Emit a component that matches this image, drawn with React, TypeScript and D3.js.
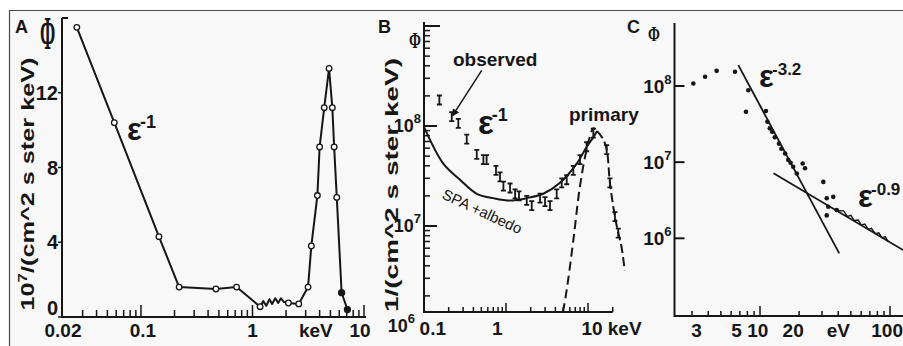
import React, { useEffect, useRef } from "react";
import * as d3 from "d3";

// ---- panel A: flux in 10^7 /(cm^2 s ster keV), energy in keV
const aEnergy = [0.0266, 0.0577, 0.145, 0.22, 0.47, 0.72, 1.17, 1.25, 1.33, 1.42, 1.5, 1.6, 1.7, 1.8, 1.92, 2.1, 2.6, 3.15, 3.37, 3.82, 4.0, 4.4, 4.86, 5.2, 5.4, 5.7, 6.3, 7.1];
const aFlux = [15.5, 10.4, 4.3, 1.6, 1.5, 1.6, 0.55, 0.85, 0.6, 0.95, 0.7, 1.0, 0.75, 1.0, 0.8, 0.75, 0.7, 1.6, 3.8, 6.5, 9.1, 11.2, 13.3, 11.2, 9.1, 6.4, 1.3, 0.4];
// "o" open circle, "f" filled dot, "" plain vertex
const aMarker = ["o", "o", "o", "o", "o", "o", "o", "", "", "", "", "", "", "", "", "o", "o", "o", "o", "o", "o", "o", "o", "o", "o", "o", "f", "f"];
const aYTicks = [0, 4, 8, 12];
const aXLabels = ["0.02", "0.1", "1", "keV", "10"];
const aXLabelAt = [0.02, 0.104, 1, 3.7, 9.2];

// ---- panel B: flux 1/(cm^2 s ster keV), energy in keV
const bObsEnergy = [0.154, 0.218, 0.262, 0.332, 0.44, 0.53, 0.58, 0.755, 0.845, 0.93, 1.12, 1.29, 1.44, 1.79, 2.06, 2.6, 2.99, 3.44, 4.15, 4.78, 5.5, 6.62, 7.98, 9.63, 11.6, 16.9, 18.5, 21.3, 23.4];
const bObsFlux = [1.82e8, 1.24e8, 1.06e8, 7.4e7, 5.2e7, 4.6e7, 4.6e7, 3.6e7, 3.1e7, 2.5e7, 2.4e7, 2.1e7, 2.0e7, 1.8e7, 1.6e7, 1.9e7, 1.75e7, 1.6e7, 2.1e7, 2.7e7, 2.9e7, 3.6e7, 4.6e7, 6.2e7, 8.5e7, 5.8e7, 2.7e7, 1.24e7, 8.5e6];
const bSpaEnergy = [0.1, 0.172, 0.275, 0.44, 0.7, 1.12, 1.79, 2.85, 4.56, 7.28, 9.63, 11.6, 12.9];
const bSpaFlux = [9.8e7, 4.2e7, 2.9e7, 2.1e7, 1.9e7, 1.8e7, 1.9e7, 2.1e7, 2.7e7, 4.2e7, 6.2e7, 7.7e7, 8.9e7];
const bFallEnergy = [12.9, 15.0, 16.9, 18.5, 21.3, 23.4, 25.6, 28];
const bFallFlux = [8.9e7, 7.6e7, 5.8e7, 2.7e7, 1.24e7, 8.5e6, 6.2e6, 3.6e6];
const bPrimEnergy = [4.95, 5.5, 6.62, 7.98, 9.63, 11.6, 12.3];
const bPrimFlux = [1.38e6, 2.3e6, 7.2e6, 2.5e7, 5.8e7, 9.5e7, 9.3e7];
const bYTicks = [1e6, 1e7, 1e8];
const bYExp = ["6", "7", "8"];
const bYLabelDx = [-6, 0, 0];
const bXLabels = ["0.1", "1", "10", "keV"];
const bXLabelAt = [0.128, 0.78, 11.2, 28];

// ---- panel C: energy in eV
const cDotEnergy = [3.07, 3.78, 4.64, 6.42, 8.13, 7.8, 11.1, 11.4, 11.9, 12.4, 13.0, 14.0, 14.6, 15.6, 16.5, 17.2, 18.0, 19.2, 21.3, 22.2, 30.7, 32.6, 36.6, 33.5, 32.6, 38.9];
const cDotFlux = [1.08e8, 1.32e8, 1.58e8, 1.54e8, 8.8e7, 4.6e7, 4.7e7, 3.39e7, 2.78e7, 2.5e7, 2.12e7, 1.75e7, 1.5e7, 1.3e7, 1.07e7, 9.8e6, 8.7e6, 7.1e6, 9.6e6, 8.3e6, 5.5e6, 3.35e6, 3.5e6, 2.6e6, 2.0e6, 2.35e6];
const cZigEnergy = [40, 44, 47, 50, 53, 57, 60, 64, 68, 72, 77, 82, 87, 92, 97];
const cZigFlux = [2.3e6, 2.29e6, 1.94e6, 2.0e6, 1.71e6, 1.74e6, 1.5e6, 1.54e6, 1.31e6, 1.35e6, 1.15e6, 1.18e6, 1.01e6, 1.05e6, 9.0e5];
const cSteepEnergy = [6.81, 40.7];
const cSteepFlux = [1.88e8, 6.35e5];
const cFlatEnergy = [12.7, 126];
const cFlatFlux = [7.13e6, 7.0e5];
const cYTicks = [1e6, 1e7, 1e8];
const cYExp = ["6", "7", "8"];
const cXLabels = ["3", "5", "10", "20", "eV", "100"];
const cXLabelAt = [3.25, 6.6, 9.6, 18, 40, 95];

const W = 903;
const H = 346;
const INK = "#161616";
const SANS = "'Liberation Sans', Arial, Helvetica, sans-serif";
const SERIF = "'Liberation Serif', 'DejaVu Serif', serif";

type G = d3.Selection<SVGGElement, unknown, null, undefined>;

const isDecade = (v: number) => Math.abs(Math.log10(v) - Math.round(Math.log10(v))) < 1e-6;

const ibar = (x: number, y: number, w = 5, h = 9) =>
  `M${x - w / 2},${y - h / 2}h${w}M${x},${y - h / 2}v${h}M${x - w / 2},${y + h / 2}h${w}`;

function addText(g: G, x: number, y: number, s: string, size: number, opts: any = {}) {
  const { anchor = "start", weight = "bold", family = SANS, sx = 1 } = opts;
  return g
    .append("text")
    .attr("transform", `translate(${x},${y}) scale(${sx},1)`)
    .attr("text-anchor", anchor)
    .attr("font-family", family)
    .attr("font-weight", weight)
    .attr("font-size", size)
    .attr("fill", INK)
    .text(s);
}

function powLabel(g: G, x: number, y: number, exp: string, size = 19) {
  const t = g
    .append("text")
    .attr("x", x)
    .attr("y", y)
    .attr("text-anchor", "end")
    .attr("font-family", SANS)
    .attr("font-weight", "bold")
    .attr("font-size", size)
    .attr("fill", INK);
  t.append("tspan").text("10");
  t.append("tspan").attr("dy", -9).attr("font-size", 13).text(exp);
}

function epsLabel(g: G, x: number, y: number, exp: string, size: number, supSize: number) {
  addText(g, x, y, "ε", size);
  addText(g, x + size * 0.42, y - size * 0.4, exp, supSize);
}

function phi(g: G, cx: number, y: number, size: number, sx: number) {
  addText(g, cx, y, "Φ", size, { anchor: "middle", family: SERIF, sx });
}

function yTitle(g: G, cx: number, cy: number, len: number, parts: [string, number, number][]) {
  const t = g
    .append("text")
    .attr("transform", `translate(${cx},${cy}) rotate(-90)`)
    .attr("text-anchor", "middle")
    .attr("font-family", SANS)
    .attr("font-weight", "bold")
    .attr("font-size", 18)
    .attr("fill", INK)
    .attr("textLength", len)
    .attr("lengthAdjust", "spacingAndGlyphs");
  parts.forEach(([s, dy, fs]) => t.append("tspan").attr("dy", dy).attr("font-size", fs).text(s));
}

function drawA(g: G) {
  const x = d3.scaleLog().domain([0.02, 10]).range([63, 364]);
  const y = d3.scaleLinear().domain([0, 16]).range([317, 18]);
  const x0 = x(0.02) - 1;
  const base = y(0);

  g.append("path")
    .attr("d", `M${x0},${y(16)}V${base}H${x(10) + 2}`)
    .attr("fill", "none")
    .attr("stroke", INK)
    .attr("stroke-width", 2);
  g.append("line").attr("x1", x0).attr("x2", x0 + 6).attr("y1", y(16)).attr("y2", y(16)).attr("stroke", INK).attr("stroke-width", 2);

  aYTicks.forEach((v) => {
    g.append("line").attr("x1", x0 - 4).attr("x2", x0).attr("y1", y(v)).attr("y2", y(v)).attr("stroke", INK).attr("stroke-width", 1.5);
    // the zero label sits on the axis so it clears the x labels below
    addText(g, x0 - 4, v === 0 ? base - 2 : y(v) + 7, String(v), 20, { anchor: "end" });
  });

  x.ticks()
    .filter((v) => v > 0.02)
    .forEach((v) => {
      g.append("line")
        .attr("x1", x(v))
        .attr("x2", x(v))
        .attr("y1", base)
        .attr("y2", base - (isDecade(v) ? 12 : 7))
        .attr("stroke", INK)
        .attr("stroke-width", 1.5);
    });
  aXLabels.forEach((s, i) => addText(g, x(aXLabelAt[i]), 337, s, 19, { anchor: "middle" }));

  const pts = aEnergy.map((e, i) => [x(e), y(aFlux[i])] as [number, number]);
  g.append("path")
    .attr("d", d3.line()(pts))
    .attr("fill", "none")
    .attr("stroke", INK)
    .attr("stroke-width", 2)
    .attr("stroke-linejoin", "round");
  pts.forEach((p, i) => {
    if (!aMarker[i]) return;
    g.append("circle")
      .attr("cx", p[0])
      .attr("cy", p[1])
      .attr("r", aMarker[i] === "f" ? 3 : 2.8)
      .attr("fill", aMarker[i] === "f" ? INK : "#fff")
      .attr("stroke", INK)
      .attr("stroke-width", 1.3);
  });

  addText(g, 15, 33, "A", 18);
  phi(g, 47.5, 49, 46, 0.4);
  yTitle(g, 34, 184, 253, [["10", 0, 18], ["7", -7, 12], ["/(cm^2 s ster keV)", 7, 18]]);
  epsLabel(g, 127, 140, "-1", 31, 18);
}

function drawB(g: G) {
  const x = d3.scaleLog().domain([0.1, 20]).range([424, 612.7]);
  const y = d3.scaleLog().domain([1e6, 1e9]).range([326, 26]);
  const x0 = x(0.1);
  const base = 312;

  g.append("path")
    .attr("d", `M${x0},22V${base}H${x(20)}`)
    .attr("fill", "none")
    .attr("stroke", INK)
    .attr("stroke-width", 2);

  y.ticks()
    .filter((v) => y(v) <= base - 3 && y(v) >= 22)
    .forEach((v) => {
      const len = isDecade(v) ? (v >= 1e9 ? 16 : 13) : 6;
      g.append("line").attr("x1", x0).attr("x2", x0 + len).attr("y1", y(v)).attr("y2", y(v)).attr("stroke", INK).attr("stroke-width", isDecade(v) ? 2 : 1.5);
    });
  bYTicks.forEach((v, i) => powLabel(g, x0 - 3 + bYLabelDx[i], y(v) + 6, bYExp[i], 18));

  x.ticks()
    .filter((v) => v > 0.1)
    .forEach((v) => {
      g.append("line")
        .attr("x1", x(v))
        .attr("x2", x(v))
        .attr("y1", base)
        .attr("y2", base - (isDecade(v) ? 9 : 5))
        .attr("stroke", INK)
        .attr("stroke-width", 1.5);
    });
  bXLabels.forEach((s, i) => addText(g, x(bXLabelAt[i]), 335, s, 19, { anchor: "middle" }));

  const line = d3
    .line<[number, number]>()
    .x((d) => x(d[0]))
    .y((d) => y(d[1]))
    .curve(d3.curveCatmullRom);

  g.append("path")
    .attr("d", line(bSpaEnergy.map((e, i) => [e, bSpaFlux[i]])))
    .attr("fill", "none")
    .attr("stroke", INK)
    .attr("stroke-width", 2);
  g.append("path")
    .attr("d", line(bFallEnergy.map((e, i) => [e, bFallFlux[i]])))
    .attr("fill", "none")
    .attr("stroke", INK)
    .attr("stroke-width", 2)
    .attr("stroke-dasharray", "9,4");
  g.append("path")
    .attr("d", line(bPrimEnergy.map((e, i) => [e, bPrimFlux[i]])))
    .attr("fill", "none")
    .attr("stroke", INK)
    .attr("stroke-width", 2)
    .attr("stroke-dasharray", "9,5");

  g.append("path")
    .attr("d", bObsEnergy.map((e, i) => ibar(x(e), y(bObsFlux[i]))).join(""))
    .attr("fill", "none")
    .attr("stroke", INK)
    .attr("stroke-width", 1.8);

  addText(g, 378, 33, "B", 18);
  phi(g, 415, 48, 24, 0.6);
  yTitle(g, 398, 185, 254, [["1/(cm^2 s ster keV)", 0, 18]]);
  epsLabel(g, 478, 134, "-1", 33, 18);

  addText(g, 453, 66, "observed", 19);
  g.append("line")
    .attr("x1", x(0.506))
    .attr("y1", y(3.6e8))
    .attr("x2", x(0.222))
    .attr("y2", y(1.26e8))
    .attr("stroke", INK)
    .attr("stroke-width", 1.5)
    .attr("marker-end", "url(#arrow)");
  addText(g, 569, 121, "primary", 19);
  g.append("text")
    .attr("transform", "translate(441,198) rotate(25)")
    .attr("font-family", SANS)
    .attr("font-size", 15)
    .attr("fill", INK)
    .text("SPA +albedo");
}

function drawC(g: G) {
  const x = d3.scaleLog().domain([10, 100]).range([760, 890]);
  const y = d3.scaleLog().domain([1e6, 1e8]).range([238.3, 86]);
  const x0 = 674.5;
  const base = 316;
  const xMin = x.invert(x0);
  const xMax = x.invert(W);

  g.append("path")
    .attr("d", `M${x0},23V${base}H${W}`)
    .attr("fill", "none")
    .attr("stroke", INK)
    .attr("stroke-width", 2);

  cYTicks.forEach((v, i) => {
    g.append("line").attr("x1", x0).attr("x2", x0 + 10).attr("y1", y(v)).attr("y2", y(v)).attr("stroke", INK).attr("stroke-width", 2);
    powLabel(g, x0 - 3, y(v) + 7, cYExp[i], 19);
  });

  d3.scaleLog()
    .domain([xMin, xMax])
    .ticks()
    .forEach((v) => {
      g.append("line")
        .attr("x1", x(v))
        .attr("x2", x(v))
        .attr("y1", base)
        .attr("y2", base - (isDecade(v) ? 10 : 5))
        .attr("stroke", INK)
        .attr("stroke-width", 1.5);
    });
  cXLabels.forEach((s, i) => addText(g, x(cXLabelAt[i]), 337, s, 19, { anchor: "middle" }));

  const fit = d3
    .line<[number, number]>()
    .x((d) => x(d[0]))
    .y((d) => y(d[1]));
  g.append("path")
    .attr("d", fit(cSteepEnergy.map((e, i) => [e, cSteepFlux[i]])))
    .attr("stroke", INK)
    .attr("stroke-width", 1.8)
    .attr("fill", "none");
  g.append("path")
    .attr("d", fit(cFlatEnergy.map((e, i) => [e, cFlatFlux[i]])))
    .attr("stroke", INK)
    .attr("stroke-width", 1.8)
    .attr("fill", "none");
  g.append("path")
    .attr("d", fit(cZigEnergy.map((e, i) => [e, cZigFlux[i]])))
    .attr("stroke", INK)
    .attr("stroke-width", 1.4)
    .attr("fill", "none");

  g.selectAll("circle.dot")
    .data(cDotEnergy)
    .enter()
    .append("circle")
    .attr("cx", (d) => x(d))
    .attr("cy", (d, i) => y(cDotFlux[i]))
    .attr("r", 2.3)
    .attr("fill", INK);

  addText(g, 627, 33, "C", 18);
  phi(g, 654, 41, 22, 0.65);
  epsLabel(g, 759, 87, "-3.2", 31, 17);
  epsLabel(g, 858, 207, "-0.9", 31, 17);
}

export default function App() {
  const ref = useRef<SVGSVGElement>(null);

  useEffect(() => {
    if (!ref.current) return;
    const svg = d3.select(ref.current);
    svg.selectAll("*").remove();

    svg
      .append("defs")
      .append("marker")
      .attr("id", "arrow")
      .attr("viewBox", "0 0 10 10")
      .attr("refX", 9)
      .attr("refY", 5)
      .attr("markerWidth", 5)
      .attr("markerHeight", 5)
      .attr("orient", "auto")
      .append("path")
      .attr("d", "M0,0L10,5L0,10z")
      .attr("fill", INK);

    svg.append("rect").attr("width", W).attr("height", H).attr("fill", "#fff");
    svg.append("rect").attr("x", 9).attr("y", 10).attr("width", W - 9).attr("height", H - 10).attr("fill", "#f8f8f8");
    svg.append("path").attr("d", `M${W},10.5H9.5V${H}`).attr("fill", "none").attr("stroke", "#4a4a4a").attr("stroke-width", 1.2);

    drawA(svg.append("g"));
    drawB(svg.append("g"));
    drawC(svg.append("g"));
  }, []);

  return (
    <svg
      ref={ref}
      width={W}
      height={H}
      style={{ position: "absolute", left: 0, top: 0, display: "block" }}
    />
  );
}
